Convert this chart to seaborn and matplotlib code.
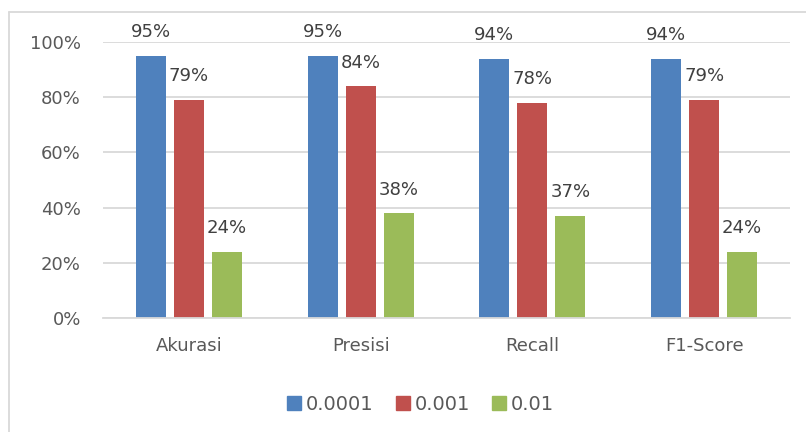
import matplotlib
matplotlib.use("Agg")
import matplotlib.pyplot as plt
import seaborn as sns
import pandas as pd
from matplotlib.lines import Line2D

categories = ["Akurasi", "Presisi", "Recall", "F1-Score"]
series_names = ["0.0001", "0.001", "0.01"]
vals_0001 = [95, 95, 94, 94]
vals_001 = [79, 84, 78, 79]
vals_01 = [24, 38, 37, 24]
yticks = [0, 20, 40, 60, 80, 100]
colors = ["#4F81BD", "#C0504D", "#9BBB59"]

rows = []
for name, vals in zip(series_names, [vals_0001, vals_001, vals_01]):
    for c, v in zip(categories, vals):
        rows.append({"metric": c, "lr": name, "value": v})
df = pd.DataFrame(rows)

sns.set_theme(style="white")
plt.rcParams["font.family"] = ["DejaVu Sans"]

fig = plt.figure(figsize=(8.06, 4.32), dpi=100)
ax = fig.add_axes([103/806, 1-318/432, (790-103)/806, (318-42)/432])

sns.barplot(data=df, x="metric", y="value", hue="lr", palette=colors,
            order=categories, hue_order=series_names,
            width=0.663, gap=0.21, ax=ax, legend=False, saturation=1,
            edgecolor="none")

ax.set_ylim(0, 100)
ax.set_yticks(yticks)
ax.set_yticklabels([f"{t}%" for t in yticks])
ax.yaxis.grid(True, color="#D9D9D9", linewidth=1.3)
ax.set_axisbelow(True)
for s in ["top", "right", "left"]:
    ax.spines[s].set_visible(False)
ax.spines["bottom"].set_color("#D9D9D9")
ax.spines["bottom"].set_linewidth(1.3)
ax.set_xlabel("")
ax.set_ylabel("")
ax.tick_params(axis="both", length=0, labelsize=13, labelcolor="#595959")
ax.tick_params(axis="y", pad=16)
ax.tick_params(axis="x", pad=14)

for cont in ax.containers:
    for bar in cont:
        h = bar.get_height()
        ax.annotate(f"{h:.0f}%", (bar.get_x() + bar.get_width()/2, h),
                    xytext=(0, 17), textcoords="offset points",
                    ha="center", va="center", fontsize=13, color="#404040",
                    annotation_clip=False)

handles = [Line2D([0], [0], marker="s", linestyle="none", markersize=10,
                  markerfacecolor=c, markeredgecolor=c) for c in colors]
fig.legend(handles, series_names, loc="center", bbox_to_anchor=(419/806, 1-404/432),
           ncol=3, frameon=False, fontsize=14, labelcolor="#595959",
           handletextpad=0.1, columnspacing=1.0, handlelength=1.0)

fig.add_artist(Line2D([9/806, 9/806], [0, 1-12/432], transform=fig.transFigure,
                      color="#D9D9D9", linewidth=1.3))
fig.add_artist(Line2D([9/806, 1], [1-12/432, 1-12/432], transform=fig.transFigure,
                      color="#D9D9D9", linewidth=1.3))

fig.savefig("out.png", dpi=100)
